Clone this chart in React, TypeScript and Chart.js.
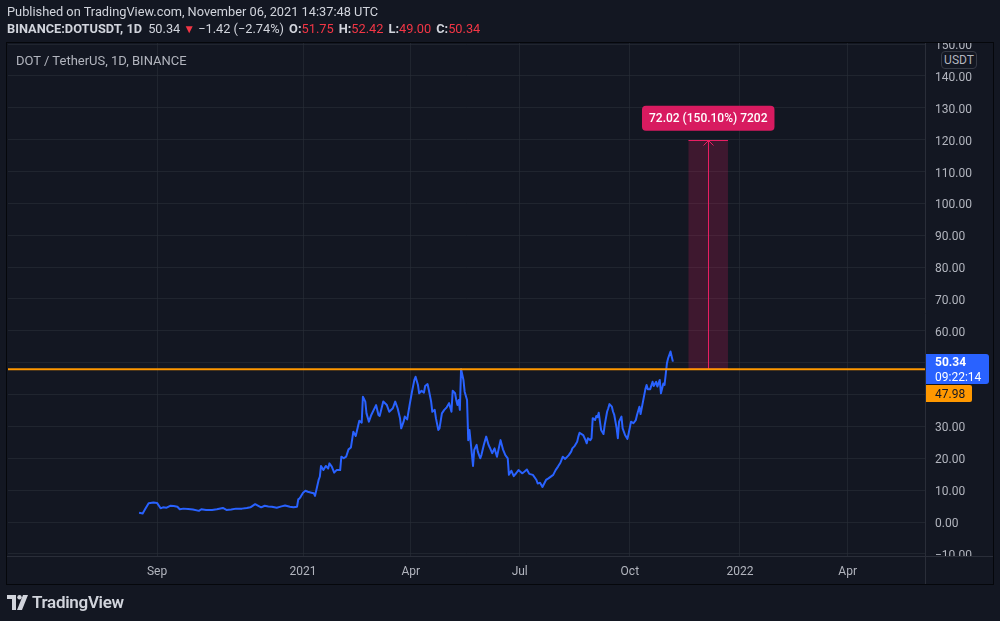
import React, { useEffect, useRef } from "react";
import { Chart, registerables } from "chart.js";

Chart.register(...registerables);

// Day offsets counted from 1 Sep 2020 (Sep 1 2020 = day 0)
const DAYS = [
  -15, -12, -10, -7, -3, 0, 3, 5, 8, 11, 14, 17, 19, 22, 26, 30, 35, 37, 41, 46,
  50, 55, 58, 62, 66, 71, 75, 78, 82, 85, 87, 90, 93, 96, 100, 104, 107, 111, 114, 117,
  118, 119, 120, 122, 124, 126, 129, 131, 132, 135, 136, 137, 139, 141, 143, 144, 146, 148, 150, 153,
  154, 156, 158, 160, 162, 164, 166, 169, 171, 172, 174, 175, 177, 179, 183, 185, 186, 189, 192, 194,
  197, 199, 201, 203, 204, 206, 207, 209, 211, 213, 215, 216, 218, 219, 221, 223, 224, 226, 227, 229,
  230, 232, 233, 235, 236, 238, 240, 242, 244, 246, 247, 249, 250, 251, 252, 253, 254, 256, 257, 259,
  260, 261, 262, 264, 265, 267, 268, 270, 271, 273, 275, 277, 278, 280, 282, 284, 287, 289, 291, 293,
  294, 296, 298, 300, 302, 305, 306, 309, 311, 314, 317, 318, 320, 322, 325, 327, 331, 333, 335, 337,
  339, 341, 344, 346, 347, 349, 351, 352, 353, 356, 358, 359, 360, 362, 363, 364, 366, 367, 368, 369,
  371, 373, 374, 376, 377, 378, 380, 381, 382, 384, 385, 386, 388, 389, 391, 393, 394, 396, 398, 400,
  401, 403, 404, 406, 408, 409, 410, 412, 414, 415, 417, 418, 420, 421, 423, 424, 426, 427, 429, 430,
  431,
];
const PRICES = [
  2.9, 2.7, 4.0, 5.9, 6.1, 6.0, 4.3, 4.6, 4.5, 5.1, 5.0, 4.8, 4.0, 4.2, 4.1, 3.9, 3.5, 4.0, 3.8, 3.8,
  4.0, 4.4, 3.8, 3.9, 4.2, 4.2, 4.4, 4.6, 5.6, 5.0, 4.6, 5.1, 4.9, 4.8, 4.5, 4.9, 5.2, 4.8, 4.6, 4.8,
  7.1, 7.4, 7.9, 9.2, 9.8, 9.5, 9.2, 9.0, 8.2, 13.2, 14.2, 17.6, 16.3, 17.6, 16.8, 18.4, 17.4, 15.5, 16.3, 16.3,
  20.5, 20.0, 20.5, 22.8, 23.4, 28.3, 27.0, 31.8, 31.2, 39.3, 37.8, 34.1, 31.5, 33.6, 36.7, 33.6, 33.3, 37.8, 36.7, 34.6,
  35.7, 37.8, 35.7, 32.6, 29.4, 31.5, 33.1, 32.2, 36.7, 40.9, 44.6, 45.6, 43.0, 40.4, 41.2, 40.6, 42.7, 43.3, 41.6, 37.8,
  34.6, 35.2, 32.6, 28.9, 29.4, 34.1, 35.2, 36.0, 37.3, 34.6, 41.2, 40.4, 38.3, 36.7, 38.3, 35.2, 48.0, 44.6, 40.9, 38.3,
  25.7, 28.9, 25.2, 17.6, 22.6, 24.2, 22.1, 20.0, 21.0, 24.2, 26.8, 24.2, 23.4, 21.6, 23.1, 20.5, 25.7, 22.8, 21.0, 20.0,
  14.8, 16.1, 14.4, 15.3, 16.3, 15.3, 15.5, 16.5, 15.1, 14.8, 13.2, 12.1, 12.3, 11.0, 13.2, 13.7, 14.8, 16.3, 17.4, 18.6,
  20.5, 19.8, 21.0, 22.1, 23.1, 23.9, 25.2, 26.8, 28.0, 27.3, 25.7, 24.7, 26.3, 25.7, 26.3, 32.6, 32.0, 33.3, 32.9, 34.3,
  28.9, 27.6, 30.4, 34.6, 35.7, 37.0, 36.2, 34.6, 33.6, 29.4, 26.3, 31.5, 33.1, 29.4, 27.3, 26.1, 27.8, 31.5, 31.0, 32.0,
  33.6, 36.2, 33.9, 37.8, 41.7, 43.0, 41.7, 41.7, 44.0, 42.7, 44.0, 42.5, 44.6, 40.4, 43.5, 43.0, 49.8, 51.4, 53.5, 51.9,
  50.34,
];

const X_TICK_DAYS = [0, 122, 212, 303, 395, 487, 577];
const X_TICK_LABELS = ["Sep", "2021", "Apr", "Jul", "Oct", "2022", "Apr"];
const X_MIN = -124.5;
const X_MAX = 641.6;

const Y_TICKS = [-10, 0, 10, 20, 30, 40, 50, 60, 70, 80, 90, 100, 110, 120, 130, 140, 150];
const Y_MIN = -10.67;
const Y_MAX = 150.35;

const LEVEL = 47.98;
const LAST_PRICE = 50.34;
const COUNTDOWN = "09:22:14";

const MEASURE_FROM_DAY = 444;
const MEASURE_TO_DAY = 477;
const MEASURE_CHANGE = 72.02;

const HEADER_OHLC = [
  ["O:", "51.75"],
  ["H:", "52.42"],
  ["L:", "49.00"],
  ["C:", "50.34"],
];

const BG = "#131722";
const TEXT = "#d1d4dc";
const AXIS_TEXT = "#b2b5be";
const GRID = "rgba(42,46,57,0.6)";
const SEP = "#2a2e39";
const FONT = "Roboto, 'Noto Sans', sans-serif";

function rr(ctx: CanvasRenderingContext2D, x: number, y: number, w: number, h: number, r: number | number[]) {
  ctx.beginPath();
  (ctx as any).roundRect(x, y, w, h, r);
  ctx.fill();
}

const overlayPlugin = {
  id: "tvOverlay",
  beforeDraw(chart: any) {
    const { ctx, width, height } = chart;
    ctx.save();
    ctx.fillStyle = BG;
    ctx.fillRect(0, 0, width, height);
    ctx.restore();
  },
  beforeDatasetsDraw(chart: any) {
    const { ctx } = chart;
    const xs = chart.scales.x;
    const ys = chart.scales.y;
    const x1 = xs.getPixelForValue(MEASURE_FROM_DAY);
    const x2 = xs.getPixelForValue(MEASURE_TO_DAY);
    const xm = Math.round((x1 + x2) / 2) + 0.5;
    const yb = ys.getPixelForValue(LEVEL);
    const yt = Math.round(ys.getPixelForValue(LEVEL + MEASURE_CHANGE)) + 0.5;
    ctx.save();
    ctx.fillStyle = "rgba(233,30,99,0.2)";
    ctx.fillRect(x1, yt, x2 - x1, yb - yt);
    ctx.strokeStyle = "#e91e63";
    ctx.lineWidth = 1;
    ctx.beginPath();
    ctx.moveTo(x1, yt);
    ctx.lineTo(x2, yt);
    ctx.moveTo(x1, yb);
    ctx.lineTo(x2, yb);
    ctx.moveTo(xm, yb);
    ctx.lineTo(xm, yt);
    ctx.moveTo(xm - 5, yt + 5);
    ctx.lineTo(xm, yt);
    ctx.lineTo(xm + 5, yt + 5);
    ctx.stroke();
    ctx.restore();
  },
  afterDraw(chart: any) {
    const { ctx, width } = chart;
    const xs = chart.scales.x;
    const ys = chart.scales.y;
    const area = chart.chartArea;
    ctx.save();
    // mask overflow of axis labels outside the pane
    ctx.fillStyle = BG;
    ctx.fillRect(0, 0, width, area.top - 1);
    ctx.fillRect(ys.left + 1, area.bottom + 1, ys.right - ys.left - 1, xs.bottom - area.bottom - 1);

    // separators
    ctx.strokeStyle = SEP;
    ctx.lineWidth = 1;
    ctx.beginPath();
    ctx.moveTo(ys.left + 0.5, area.top);
    ctx.lineTo(ys.left + 0.5, xs.bottom);
    ctx.moveTo(xs.left - 1, area.bottom + 0.5);
    ctx.lineTo(ys.right, area.bottom + 0.5);
    ctx.stroke();

    // frame
    ctx.strokeStyle = "#05070b";
    ctx.strokeRect(xs.left - 1.5, area.top - 0.5, ys.right - xs.left + 2, xs.bottom - area.top + 1);

    // measurement label
    const x1 = xs.getPixelForValue(MEASURE_FROM_DAY);
    const x2 = xs.getPixelForValue(MEASURE_TO_DAY);
    const xm = (x1 + x2) / 2;
    const yt = ys.getPixelForValue(LEVEL + MEASURE_CHANGE);
    const pct = ((MEASURE_CHANGE / LEVEL) * 100).toFixed(2);
    const ticks = Math.round(MEASURE_CHANGE * 100);
    const label = `${MEASURE_CHANGE.toFixed(2)} (${pct}%) ${ticks}`;
    ctx.font = `500 12px ${FONT}`;
    const tw = ctx.measureText(label).width;
    const bw = tw + 14;
    ctx.fillStyle = "#d81b60";
    rr(ctx, xm - bw / 2, yt - 34, bw, 25, 4);
    ctx.fillStyle = "#ffffff";
    ctx.textAlign = "center";
    ctx.textBaseline = "middle";
    ctx.fillText(label, xm, yt - 21);

    // last price label
    const py = ys.getPixelForValue(LAST_PRICE);
    const top = Math.round(py - 8);
    ctx.fillStyle = "#2962ff";
    rr(ctx, ys.left + 1, top, 63, 30, [0, 3, 3, 0]);
    ctx.fillStyle = "#ffffff";
    ctx.textAlign = "left";
    ctx.font = `bold 12px ${FONT}`;
    ctx.fillText(LAST_PRICE.toFixed(2), ys.left + 10, top + 9);
    ctx.font = `12px ${FONT}`;
    ctx.fillText(COUNTDOWN, ys.left + 10, top + 23.5);

    // level label
    const otop = top + 31;
    ctx.fillStyle = "#ff9800";
    rr(ctx, ys.left + 1, otop, 46, 17, [0, 2, 2, 0]);
    ctx.fillStyle = "#131722";
    ctx.font = `12px ${FONT}`;
    ctx.fillText(LEVEL.toFixed(2), ys.left + 10, otop + 9.5);
    ctx.restore();
  },
};

function Logo() {
  return (
    <svg width="24" height="15" viewBox="0 0 24 15" style={{ position: "absolute", left: 7, top: 595 }}>
      <path d="M0 0 H9 V15 H5 V4 H0 Z" fill={TEXT} />
      <circle cx="12.5" cy="2.2" r="2.2" fill={TEXT} />
      <path d="M16 0 H21 L15 15 H10 Z" fill={TEXT} />
    </svg>
  );
}

export default function App() {
  const ref = useRef<HTMLCanvasElement>(null);

  useEffect(() => {
    const canvas = ref.current;
    if (!canvas) return;
    const chart = new Chart(canvas, {
      type: "line",
      data: {
        datasets: [
          {
            label: "Level",
            data: [
              { x: X_MIN, y: LEVEL },
              { x: X_MAX, y: LEVEL },
            ],
            borderColor: "#ff9800",
            borderWidth: 2,
            pointRadius: 0,
            order: 0,
          },
          {
            label: "DOTUSDT",
            data: DAYS.map((d, i) => ({ x: d, y: PRICES[i] })),
            borderColor: "#2962ff",
            borderWidth: 2,
            pointRadius: 0,
            tension: 0,
            borderJoinStyle: "round",
            order: 1,
          },
        ],
      },
      options: {
        animation: false,
        responsive: false,
        maintainAspectRatio: false,
        events: [],
        layout: { padding: { left: 8, top: 43, right: 7, bottom: 37 } },
        plugins: { legend: { display: false }, tooltip: { enabled: false } },
        scales: {
          x: {
            type: "linear",
            min: X_MIN,
            max: X_MAX,
            afterBuildTicks: (s: any) => {
              s.ticks = X_TICK_DAYS.map((v) => ({ value: v }));
            },
            afterFit: (s: any) => {
              s.height = 28;
            },
            ticks: {
              callback: (_v: any, i: number) => X_TICK_LABELS[i],
              color: AXIS_TEXT,
              font: { family: FONT, size: 12 },
              padding: 9,
              maxRotation: 0,
              autoSkip: false,
            },
            grid: { color: GRID, drawTicks: false, lineWidth: 1 },
            border: { display: false },
          },
          y: {
            type: "linear",
            position: "right",
            min: Y_MIN,
            max: Y_MAX,
            afterBuildTicks: (s: any) => {
              s.ticks = Y_TICKS.map((v) => ({ value: v }));
            },
            afterFit: (s: any) => {
              s.width = 68;
            },
            ticks: {
              callback: (v: any) => (v < 0 ? "\u2212" + Math.abs(v).toFixed(2) : Number(v).toFixed(2)),
              color: AXIS_TEXT,
              font: { family: FONT, size: 12 },
              padding: 10,
              labelOffset: 2,
              autoSkip: false,
            },
            grid: { color: GRID, drawTicks: false, lineWidth: 1 },
            border: { display: false },
          },
        },
      } as any,
      plugins: [overlayPlugin],
    });
    return () => chart.destroy();
  }, []);

  const red = "#f23645";
  return (
    <div
      style={{
        position: "fixed",
        left: 0,
        top: 0,
        width: 1000,
        height: 621,
        background: BG,
        overflow: "hidden",
        fontFamily: FONT,
      }}
    >
      <canvas ref={ref} width={1000} height={621} style={{ position: "absolute", left: 0, top: 0, display: "block" }} />
      <div style={{ position: "absolute", left: 7, top: 4, fontSize: 12.8, color: TEXT, whiteSpace: "nowrap" }}>
        Published on TradingView.com, November 06, 2021 14:37:48 UTC
      </div>
      <div style={{ position: "absolute", left: 7, top: 21, fontSize: 12.8, color: TEXT, whiteSpace: "nowrap" }}>
        <b>BINANCE:DOTUSDT, 1D</b>
        <span style={{ marginLeft: 6 }}>{LAST_PRICE.toFixed(2)}</span>
        <span style={{ color: red, fontSize: 12 }}> ▼</span>
        <span style={{ marginLeft: 3 }}>−1.42 (−2.74%)</span>
        {HEADER_OHLC.map(([k, v]) => (
          <span key={k} style={{ marginLeft: 5 }}>
            <b>{k}</b>
            <span style={{ color: red }}>{v}</span>
          </span>
        ))}
      </div>
      <div style={{ position: "absolute", left: 16, top: 53, fontSize: 13, color: AXIS_TEXT, whiteSpace: "nowrap" }}>
        DOT / TetherUS, 1D, BINANCE
      </div>
      <div
        style={{
          position: "absolute",
          left: 941,
          top: 51,
          width: 34,
          height: 16,
          border: "1px solid #363a45",
          borderRadius: 4,
          background: BG,
          color: AXIS_TEXT,
          fontSize: 12,
          lineHeight: "16px",
          textAlign: "center",
        }}
      >
        USDT
      </div>
      <Logo />
      <div style={{ position: "absolute", left: 32, top: 592, fontSize: 17, fontWeight: 600, color: TEXT, letterSpacing: -0.3 }}>
        TradingView
      </div>
    </div>
  );
}
